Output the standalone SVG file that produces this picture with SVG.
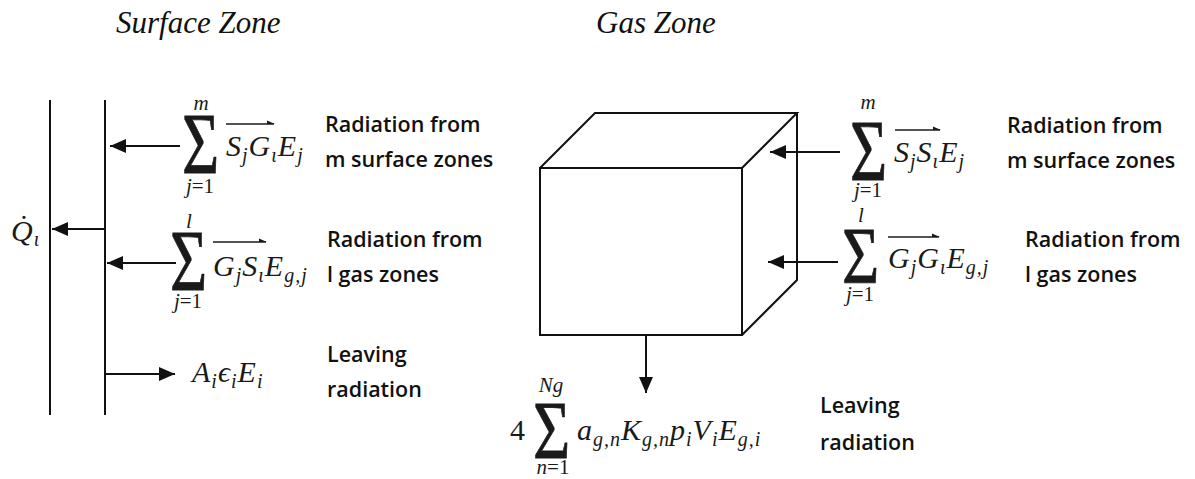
<svg xmlns="http://www.w3.org/2000/svg" width="1195" height="479" viewBox="0 0 1195 479">
<defs>
<marker id="ah" markerUnits="userSpaceOnUse" markerWidth="17" markerHeight="15" refX="16" refY="7" orient="auto">
<path d="M0,0 L16,7 L0,14 z" fill="#111"/>
</marker>
<style>
.ln{stroke:#111;stroke-width:2;fill:none}
.cn{stroke:#111;stroke-width:2;fill:none;marker-end:url(#ah)}
.ttl{font-family:"Liberation Serif",serif;font-style:italic;font-size:31px;fill:#111}
.lab{font-family:"Open Sans",sans-serif;font-weight:600;font-size:21.5px;fill:#111}
.m{font-family:"Liberation Serif","DejaVu Serif",serif;font-style:italic;font-size:30px;fill:#1a1a1a;letter-spacing:1px}
.lim{font-family:"Liberation Serif","DejaVu Serif",serif;font-size:21px;fill:#1a1a1a;text-anchor:middle}
.it{font-style:italic}
.sig{font-family:"Liberation Serif",serif;font-size:64px;fill:#1a1a1a;stroke:#1a1a1a;stroke-width:0.6}
.sb{font-size:20px}
.ov{stroke:#1a1a1a;stroke-width:1.5;fill:none}
.ovh{fill:#1a1a1a}
</style>
</defs>

<g id="titles">
<text class="ttl" x="116" y="33">Surface Zone</text>
<text class="ttl" x="596" y="33">Gas Zone</text>
</g>

<g id="surface-zone">
<line class="ln" x1="50" y1="100" x2="50" y2="415"/>
<line class="ln" x1="105" y1="100" x2="105" y2="415"/>
<text class="m" x="11" y="241">Q̇<tspan class="sb" dy="5">ι</tspan></text>
</g>

<g id="gas-zone">
<rect class="ln" x="540" y="168" width="202" height="167"/>
<path class="ln" d="M540,168 L595,113 L797,113 L742,168 M797,113 L797,280 L742,335"/>
</g>

<g id="surface-term-1">
<text class="sig" transform="translate(182,173) scale(1,1.34)">Σ</text>
<text class="lim it" x="201" y="110">m</text>
<text class="lim" x="200" y="193"><tspan class="it">j</tspan>=1</text>
<text class="m" x="226" y="156">S<tspan class="sb" dy="6">j</tspan><tspan dy="-6">G</tspan><tspan class="sb" dy="6">ι</tspan><tspan dy="-6">E</tspan><tspan class="sb" dy="6">j</tspan></text>
<line class="ov" x1="226" y1="124" x2="274" y2="124"/>
<path class="ovh" d="M275,124 L267,120.5 L267,124 z"/>
<text class="lab" x="325" y="132">Radiation from</text>
<text class="lab" x="325" y="167">m surface zones</text>
</g>

<g id="surface-term-2">
<text class="sig" transform="translate(170,290) scale(1,1.34)">Σ</text>
<text class="lim it" x="189" y="228">l</text>
<text class="lim" x="188" y="308"><tspan class="it">j</tspan>=1</text>
<text class="m" x="213" y="276">G<tspan class="sb" dy="6">j</tspan><tspan dy="-6">S</tspan><tspan class="sb" dy="6">ι</tspan><tspan dy="-6">E</tspan><tspan class="sb" dy="6">g,j</tspan></text>
<line class="ov" x1="213" y1="242" x2="266" y2="242"/>
<path class="ovh" d="M267,242 L259,238.5 L259,242 z"/>
<text class="lab" x="327" y="247">Radiation from</text>
<text class="lab" x="327" y="282">l gas zones</text>
</g>

<g id="surface-leaving">
<text class="m" x="192" y="382">A<tspan class="sb" dy="6">i</tspan><tspan dy="-6">ϵ</tspan><tspan class="sb" dy="6">i</tspan><tspan dy="-6">E</tspan><tspan class="sb" dy="6">i</tspan></text>
<text class="lab" x="327" y="362">Leaving</text>
<text class="lab" x="327" y="397">radiation</text>
</g>

<g id="gas-term-1">
<text class="sig" transform="translate(850,180) scale(1,1.34)">Σ</text>
<text class="lim it" x="868" y="109">m</text>
<text class="lim" x="868" y="197"><tspan class="it">j</tspan>=1</text>
<text class="m" x="894" y="162">S<tspan class="sb" dy="6">j</tspan><tspan dy="-6">S</tspan><tspan class="sb" dy="6">ι</tspan><tspan dy="-6">E</tspan><tspan class="sb" dy="6">j</tspan></text>
<line class="ov" x1="895" y1="130" x2="940" y2="130"/>
<path class="ovh" d="M941,130 L933,126.5 L933,130 z"/>
<text class="lab" x="1007" y="133">Radiation from</text>
<text class="lab" x="1007" y="168">m surface zones</text>
</g>

<g id="gas-term-2">
<text class="sig" transform="translate(842,283) scale(1,1.25)">Σ</text>
<text class="lim it" x="861" y="222">l</text>
<text class="lim" x="860" y="301"><tspan class="it">j</tspan>=1</text>
<text class="m" x="888" y="268">G<tspan class="sb" dy="6">j</tspan><tspan dy="-6">G</tspan><tspan class="sb" dy="6">ι</tspan><tspan dy="-6">E</tspan><tspan class="sb" dy="6">g,j</tspan></text>
<line class="ov" x1="888" y1="237" x2="939" y2="237"/>
<path class="ovh" d="M940,237 L932,233.5 L932,237 z"/>
<text class="lab" x="1025" y="247">Radiation from</text>
<text class="lab" x="1025" y="282">l gas zones</text>
</g>

<g id="gas-leaving">
<text class="m" x="510" y="440" style="font-style:normal">4</text>
<text class="sig" transform="translate(533,458) scale(1,1.3)">Σ</text>
<text class="lim it" x="551" y="392">Ng</text>
<text class="lim" x="553" y="474"><tspan class="it">n</tspan>=1</text>
<text class="m" x="577" y="440">a<tspan class="sb" dy="6">g,n</tspan><tspan dy="-6">K</tspan><tspan class="sb" dy="6">g,n</tspan><tspan dy="-6">p</tspan><tspan class="sb" dy="6">i</tspan><tspan dy="-6">V</tspan><tspan class="sb" dy="6">i</tspan><tspan dy="-6">E</tspan><tspan class="sb" dy="6">g,i</tspan></text>
<text class="lab" x="820" y="413">Leaving</text>
<text class="lab" x="820" y="450">radiation</text>
</g>

<g id="connectors">
<line class="cn" x1="180" y1="146" x2="110" y2="146"/>
<line class="cn" x1="105" y1="229" x2="52" y2="229"/>
<line class="cn" x1="176" y1="263" x2="107" y2="263"/>
<line class="cn" x1="106" y1="374" x2="175" y2="374"/>
<line class="cn" x1="840" y1="152" x2="770" y2="152"/>
<line class="cn" x1="838" y1="262" x2="768" y2="262"/>
<line class="cn" x1="646" y1="335" x2="646" y2="393"/>
</g>
</svg>
